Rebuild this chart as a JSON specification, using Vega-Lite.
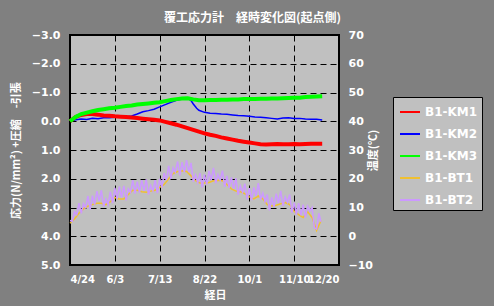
{
  "$schema": "https://vega.github.io/schema/vega-lite/v6.json",
  "width": 269,
  "height": 230,
  "autosize": {"type": "none"},
  "padding": {"left": 70, "top": 35, "right": 155, "bottom": 41},
  "background": "#808080",
  "title": {
    "text": "覆工応力計　経時変化図(起点側)",
    "color": "#ffffff",
    "font": "Noto Sans CJK JP",
    "fontSize": 12,
    "fontWeight": "bold",
    "anchor": "middle",
    "frame": "group",
    "dx": 48,
    "offset": 4
  },
  "config": {
    "view": {"fill": "#c0c0c0", "stroke": "#000000", "strokeWidth": 2},
    "mark": {"invalid": "filter"},
    "axis": {
      "labelFont": "DejaVu Sans",
      "labelFontWeight": "bold",
      "labelFontSize": 11,
      "labelColor": "#ffffff",
      "titleColor": "#ffffff",
      "titleFont": "Noto Sans CJK JP",
      "titleFontWeight": "bold",
      "titleFontSize": 11,
      "gridColor": "#000000",
      "gridDash": [6, 4],
      "gridOpacity": 1,
      "gridWidth": 1,
      "ticks": false,
      "domain": false
    },
    "legend": {
      "orient": "none",
      "legendX": 323,
      "legendY": 62,
      "fillColor": "#c0c0c0",
      "strokeColor": "#000000",
      "padding": 4,
      "symbolType": "stroke",
      "symbolSize": 400,
      "symbolStrokeWidth": 2,
      "symbolOffset": 2,
      "rowPadding": 5,
      "labelFont": "DejaVu Sans",
      "labelFontWeight": "bold",
      "labelFontSize": 12,
      "labelColor": "#ffffff",
      "labelOffset": 4
    }
  },
  "datasets": {
    "stress": [
      {"d": "2010-04-24", "B1-KM1": 0, "B1-KM2": 0, "B1-KM3": 0},
      {"d": "2010-04-29", "B1-KM1": -0.15, "B1-KM2": -0.05, "B1-KM3": -0.15},
      {"d": "2010-05-04", "B1-KM1": -0.22, "B1-KM2": -0.08, "B1-KM3": -0.25},
      {"d": "2010-05-09", "B1-KM1": -0.25, "B1-KM2": -0.06, "B1-KM3": -0.3},
      {"d": "2010-05-14", "B1-KM1": -0.25, "B1-KM2": -0.1, "B1-KM3": -0.35},
      {"d": "2010-05-19", "B1-KM1": -0.23, "B1-KM2": -0.09, "B1-KM3": -0.39},
      {"d": "2010-05-24", "B1-KM1": -0.2, "B1-KM2": -0.12, "B1-KM3": -0.42},
      {"d": "2010-05-29", "B1-KM1": -0.19, "B1-KM2": -0.12, "B1-KM3": -0.45},
      {"d": "2010-06-03", "B1-KM1": -0.17, "B1-KM2": -0.14, "B1-KM3": -0.47},
      {"d": "2010-06-08", "B1-KM1": -0.16, "B1-KM2": -0.15, "B1-KM3": -0.5},
      {"d": "2010-06-13", "B1-KM1": -0.15, "B1-KM2": -0.16, "B1-KM3": -0.53},
      {"d": "2010-06-18", "B1-KM1": -0.13, "B1-KM2": -0.18, "B1-KM3": -0.55},
      {"d": "2010-06-23", "B1-KM1": -0.11, "B1-KM2": -0.25, "B1-KM3": -0.58},
      {"d": "2010-06-28", "B1-KM1": -0.09, "B1-KM2": -0.33, "B1-KM3": -0.6},
      {"d": "2010-07-03", "B1-KM1": -0.07, "B1-KM2": -0.37, "B1-KM3": -0.62},
      {"d": "2010-07-08", "B1-KM1": -0.05, "B1-KM2": -0.42, "B1-KM3": -0.64},
      {"d": "2010-07-13", "B1-KM1": -0.03, "B1-KM2": -0.5, "B1-KM3": -0.66},
      {"d": "2010-07-18", "B1-KM1": 0.02, "B1-KM2": -0.58, "B1-KM3": -0.7},
      {"d": "2010-07-23", "B1-KM1": 0.07, "B1-KM2": -0.66, "B1-KM3": -0.74},
      {"d": "2010-07-28", "B1-KM1": 0.12, "B1-KM2": -0.73, "B1-KM3": -0.77},
      {"d": "2010-08-02", "B1-KM1": 0.18, "B1-KM2": -0.77, "B1-KM3": -0.79},
      {"d": "2010-08-07", "B1-KM1": 0.24, "B1-KM2": -0.8, "B1-KM3": -0.8},
      {"d": "2010-08-10", "B1-KM2": -0.72},
      {"d": "2010-08-12", "B1-KM1": 0.3, "B1-KM2": -0.6, "B1-KM3": -0.76},
      {"d": "2010-08-15", "B1-KM2": -0.45},
      {"d": "2010-08-17", "B1-KM1": 0.36, "B1-KM2": -0.38, "B1-KM3": -0.73},
      {"d": "2010-08-22", "B1-KM1": 0.42, "B1-KM2": -0.31, "B1-KM3": -0.73},
      {"d": "2010-08-27", "B1-KM1": 0.47, "B1-KM2": -0.28, "B1-KM3": -0.74},
      {"d": "2010-09-01", "B1-KM1": 0.51, "B1-KM2": -0.27, "B1-KM3": -0.74},
      {"d": "2010-09-06", "B1-KM1": 0.56, "B1-KM2": -0.25, "B1-KM3": -0.75},
      {"d": "2010-09-11", "B1-KM1": 0.6, "B1-KM2": -0.24, "B1-KM3": -0.75},
      {"d": "2010-09-16", "B1-KM1": 0.64, "B1-KM2": -0.22, "B1-KM3": -0.76},
      {"d": "2010-09-21", "B1-KM1": 0.68, "B1-KM2": -0.2, "B1-KM3": -0.76},
      {"d": "2010-09-26", "B1-KM1": 0.71, "B1-KM2": -0.19, "B1-KM3": -0.77},
      {"d": "2010-10-01", "B1-KM1": 0.74, "B1-KM2": -0.17, "B1-KM3": -0.77},
      {"d": "2010-10-06", "B1-KM1": 0.77, "B1-KM2": -0.15, "B1-KM3": -0.77},
      {"d": "2010-10-11", "B1-KM1": 0.8, "B1-KM2": -0.14, "B1-KM3": -0.78},
      {"d": "2010-10-16", "B1-KM1": 0.81, "B1-KM2": -0.12, "B1-KM3": -0.78},
      {"d": "2010-10-21", "B1-KM1": 0.8, "B1-KM2": -0.1, "B1-KM3": -0.79},
      {"d": "2010-10-26", "B1-KM1": 0.79, "B1-KM2": -0.08, "B1-KM3": -0.79},
      {"d": "2010-10-31", "B1-KM1": 0.8, "B1-KM2": -0.11, "B1-KM3": -0.8},
      {"d": "2010-11-05", "B1-KM1": 0.8, "B1-KM2": -0.12, "B1-KM3": -0.81},
      {"d": "2010-11-10", "B1-KM1": 0.79, "B1-KM2": -0.1, "B1-KM3": -0.82},
      {"d": "2010-11-15", "B1-KM1": 0.8, "B1-KM2": -0.1, "B1-KM3": -0.82},
      {"d": "2010-11-20", "B1-KM1": 0.79, "B1-KM2": -0.08, "B1-KM3": -0.84},
      {"d": "2010-11-25", "B1-KM1": 0.78, "B1-KM2": -0.07, "B1-KM3": -0.85},
      {"d": "2010-11-30", "B1-KM1": 0.78, "B1-KM2": -0.07, "B1-KM3": -0.86},
      {"d": "2010-12-05", "B1-KM1": 0.78, "B1-KM2": -0.04, "B1-KM3": -0.87}
    ],
    "temp": [
      {"d": "2010-04-24", "B1-BT2": 5.5, "B1-BT1": 4.5},
      {"d": "2010-04-26", "B1-BT2": 5.2},
      {"d": "2010-04-28", "B1-BT2": 8.5, "B1-BT1": 6},
      {"d": "2010-04-30", "B1-BT2": 7.5},
      {"d": "2010-05-02", "B1-BT2": 11.5, "B1-BT1": 8},
      {"d": "2010-05-04", "B1-BT2": 8},
      {"d": "2010-05-06", "B1-BT2": 11.3, "B1-BT1": 9.5},
      {"d": "2010-05-08", "B1-BT2": 10},
      {"d": "2010-05-10", "B1-BT2": 14, "B1-BT1": 10.5},
      {"d": "2010-05-12", "B1-BT2": 9.3},
      {"d": "2010-05-14", "B1-BT2": 14.1, "B1-BT1": 11},
      {"d": "2010-05-16", "B1-BT2": 11},
      {"d": "2010-05-18", "B1-BT2": 15.7, "B1-BT1": 11.5},
      {"d": "2010-05-20", "B1-BT2": 12.3},
      {"d": "2010-05-22", "B1-BT2": 16, "B1-BT1": 11.5},
      {"d": "2010-05-24", "B1-BT2": 10.3},
      {"d": "2010-05-26", "B1-BT2": 13, "B1-BT1": 11},
      {"d": "2010-05-28", "B1-BT2": 11},
      {"d": "2010-05-30", "B1-BT2": 15.5, "B1-BT1": 12},
      {"d": "2010-06-01", "B1-BT2": 11.5},
      {"d": "2010-06-03", "B1-BT2": 16.8, "B1-BT1": 13.5},
      {"d": "2010-06-05", "B1-BT2": 13},
      {"d": "2010-06-07", "B1-BT2": 17.3, "B1-BT1": 13},
      {"d": "2010-06-09", "B1-BT2": 13.5},
      {"d": "2010-06-11", "B1-BT2": 17.5, "B1-BT1": 13},
      {"d": "2010-06-13", "B1-BT2": 12.5},
      {"d": "2010-06-15", "B1-BT2": 16.5, "B1-BT1": 14.5},
      {"d": "2010-06-17", "B1-BT2": 15.3},
      {"d": "2010-06-19", "B1-BT2": 19.5, "B1-BT1": 16},
      {"d": "2010-06-21", "B1-BT2": 14.8},
      {"d": "2010-06-23", "B1-BT2": 19, "B1-BT1": 16},
      {"d": "2010-06-25", "B1-BT2": 15.2},
      {"d": "2010-06-27", "B1-BT2": 19.5, "B1-BT1": 15.5},
      {"d": "2010-06-29", "B1-BT2": 15.8},
      {"d": "2010-07-01", "B1-BT2": 19.8, "B1-BT1": 15.3},
      {"d": "2010-07-03", "B1-BT2": 14.5},
      {"d": "2010-07-05", "B1-BT2": 17.7, "B1-BT1": 15.7},
      {"d": "2010-07-07", "B1-BT2": 15.8},
      {"d": "2010-07-09", "B1-BT2": 19.5, "B1-BT1": 16},
      {"d": "2010-07-11", "B1-BT2": 15},
      {"d": "2010-07-13", "B1-BT2": 20, "B1-BT1": 17},
      {"d": "2010-07-15", "B1-BT2": 17},
      {"d": "2010-07-17", "B1-BT2": 22, "B1-BT1": 18},
      {"d": "2010-07-19", "B1-BT2": 19.5},
      {"d": "2010-07-21", "B1-BT2": 24.5, "B1-BT1": 20},
      {"d": "2010-07-23", "B1-BT2": 20},
      {"d": "2010-07-25", "B1-BT2": 23.8, "B1-BT1": 21.8},
      {"d": "2010-07-27", "B1-BT2": 22.3},
      {"d": "2010-07-29", "B1-BT2": 26, "B1-BT1": 22.5},
      {"d": "2010-07-31", "B1-BT2": 21.2},
      {"d": "2010-08-02", "B1-BT2": 25.8, "B1-BT1": 22.8},
      {"d": "2010-08-04", "B1-BT2": 22.2},
      {"d": "2010-08-06", "B1-BT2": 26.5, "B1-BT1": 22.5},
      {"d": "2010-08-08", "B1-BT2": 22.3},
      {"d": "2010-08-10", "B1-BT2": 25.5, "B1-BT1": 21},
      {"d": "2010-08-12", "B1-BT2": 19},
      {"d": "2010-08-14", "B1-BT2": 21.3, "B1-BT1": 19.3},
      {"d": "2010-08-16", "B1-BT2": 18.7},
      {"d": "2010-08-18", "B1-BT2": 22, "B1-BT1": 18.5},
      {"d": "2010-08-20", "B1-BT2": 17},
      {"d": "2010-08-22", "B1-BT2": 21.5, "B1-BT1": 18.5},
      {"d": "2010-08-24", "B1-BT2": 18},
      {"d": "2010-08-26", "B1-BT2": 22.7, "B1-BT1": 18.7},
      {"d": "2010-08-28", "B1-BT2": 19.5},
      {"d": "2010-08-30", "B1-BT2": 23.8, "B1-BT1": 19.3},
      {"d": "2010-09-01", "B1-BT2": 18.5},
      {"d": "2010-09-03", "B1-BT2": 21.5, "B1-BT1": 19.5},
      {"d": "2010-09-05", "B1-BT2": 19.5},
      {"d": "2010-09-07", "B1-BT2": 22.8, "B1-BT1": 19.3},
      {"d": "2010-09-09", "B1-BT2": 17.2},
      {"d": "2010-09-11", "B1-BT2": 21, "B1-BT1": 18},
      {"d": "2010-09-13", "B1-BT2": 16.8},
      {"d": "2010-09-15", "B1-BT2": 20.5, "B1-BT1": 16.5},
      {"d": "2010-09-17", "B1-BT2": 16.5},
      {"d": "2010-09-19", "B1-BT2": 20.2, "B1-BT1": 15.7},
      {"d": "2010-09-21", "B1-BT2": 14.5},
      {"d": "2010-09-23", "B1-BT2": 17.5, "B1-BT1": 15.5},
      {"d": "2010-09-25", "B1-BT2": 15.3},
      {"d": "2010-09-27", "B1-BT2": 18.3, "B1-BT1": 14.8},
      {"d": "2010-09-29", "B1-BT2": 12.8},
      {"d": "2010-10-01", "B1-BT2": 16.7, "B1-BT1": 13.7},
      {"d": "2010-10-03", "B1-BT2": 12.6},
      {"d": "2010-10-05", "B1-BT2": 17, "B1-BT1": 13},
      {"d": "2010-10-07", "B1-BT2": 14},
      {"d": "2010-10-09", "B1-BT2": 18.5, "B1-BT1": 14},
      {"d": "2010-10-11", "B1-BT2": 12.8},
      {"d": "2010-10-13", "B1-BT2": 15, "B1-BT1": 13},
      {"d": "2010-10-15", "B1-BT2": 12},
      {"d": "2010-10-17", "B1-BT2": 14.5, "B1-BT1": 11},
      {"d": "2010-10-19", "B1-BT2": 9},
      {"d": "2010-10-21", "B1-BT2": 13.5, "B1-BT1": 10.5},
      {"d": "2010-10-23", "B1-BT2": 10.2},
      {"d": "2010-10-25", "B1-BT2": 14.8, "B1-BT1": 10.8},
      {"d": "2010-10-27", "B1-BT2": 11.5},
      {"d": "2010-10-29", "B1-BT2": 15.8, "B1-BT1": 11.3},
      {"d": "2010-10-31", "B1-BT2": 10.5},
      {"d": "2010-11-02", "B1-BT2": 13.7, "B1-BT1": 11.7},
      {"d": "2010-11-04", "B1-BT2": 11.8},
      {"d": "2010-11-06", "B1-BT2": 14.5, "B1-BT1": 11},
      {"d": "2010-11-08", "B1-BT2": 8.2},
      {"d": "2010-11-10", "B1-BT2": 11.7, "B1-BT1": 8.7},
      {"d": "2010-11-12", "B1-BT2": 7.5},
      {"d": "2010-11-14", "B1-BT2": 11.5, "B1-BT1": 7.5},
      {"d": "2010-11-16", "B1-BT2": 7.3},
      {"d": "2010-11-18", "B1-BT2": 11, "B1-BT1": 6.5},
      {"d": "2010-11-20", "B1-BT2": 6.5},
      {"d": "2010-11-22", "B1-BT2": 10.5, "B1-BT1": 8.5},
      {"d": "2010-11-24", "B1-BT2": 8.8},
      {"d": "2010-11-26", "B1-BT2": 10, "B1-BT1": 6.5},
      {"d": "2010-11-28", "B1-BT2": 3},
      {"d": "2010-11-30", "B1-BT2": 2.5, "B1-BT1": 2},
      {"d": "2010-12-02", "B1-BT2": 8},
      {"d": "2010-12-04", "B1-BT2": 5, "B1-BT1": 5.5}
    ]
  },
  "encoding": {
    "x": {
      "field": "d",
      "type": "temporal",
      "scale": {
        "type": "utc",
        "domain": [
          {"year": 2010, "month": 4, "date": 24, "utc": true},
          {"year": 2010, "month": 12, "date": 20, "utc": true}
        ]
      },
      "axis": {
        "title": "経日",
        "titleX": 145,
        "grid": true,
        "labelExpr": "utcFormat(datum.value, '%-m/%-d')",
        "labelOverlap": false,
        "labelFontSize": 10,
        "labelPadding": 9,
        "titlePadding": 5,
        "values": [
          {"year": 2010, "month": 4, "date": 24, "utc": true},
          {"year": 2010, "month": 6, "date": 3, "utc": true},
          {"year": 2010, "month": 7, "date": 13, "utc": true},
          {"year": 2010, "month": 8, "date": 22, "utc": true},
          {"year": 2010, "month": 10, "date": 1, "utc": true},
          {"year": 2010, "month": 11, "date": 10, "utc": true},
          {"year": 2010, "month": 12, "date": 20, "utc": true}
        ]
      }
    },
    "color": {
      "field": "s",
      "type": "nominal",
      "title": null,
      "scale": {
        "domain": ["B1-KM1", "B1-KM2", "B1-KM3", "B1-BT1", "B1-BT2"],
        "range": ["#ff0000", "#0000ff", "#00ff00", "#f0c030", "#cc99ff"]
      }
    }
  },
  "layer": [
    {
      "data": {"name": "temp"},
      "transform": [{"fold": ["B1-BT1", "B1-BT2"], "as": ["s", "v"]}],
      "mark": {"type": "line", "strokeWidth": 1.5},
      "encoding": {
        "y": {
          "field": "v",
          "type": "quantitative",
          "scale": {"domain": [-10, 70]},
          "axis": {
            "orient": "right",
            "title": "温度(℃)",
            "titleAngle": 270,
            "grid": false,
            "values": [-10, 0, 10, 20, 30, 40, 50, 60, 70],
            "labelPadding": 9,
            "titlePadding": 6
          }
        }
      }
    },
    {
      "data": {"name": "stress"},
      "transform": [{"fold": ["B1-KM1", "B1-KM2", "B1-KM3"], "as": ["s", "v"]}],
      "encoding": {
        "y": {
          "field": "v",
          "type": "quantitative",
          "scale": {"domain": [-3, 5], "reverse": true},
          "axis": {
            "title": "応力(N/mm²) +圧縮　-引張",
            "grid": true,
            "format": ".1f",
            "values": [-3, -2, -1, 0, 1, 2, 3, 4, 5],
            "labelPadding": 10,
            "titlePadding": 10
          }
        }
      },
      "layer": [
        {
          "transform": [{"filter": "datum.s === 'B1-KM2'"}],
          "mark": {"type": "line", "strokeWidth": 1.5}
        },
        {
          "transform": [{"filter": "datum.s !== 'B1-KM2'"}],
          "mark": {"type": "line", "strokeWidth": 4}
        }
      ]
    }
  ],
  "resolve": {"scale": {"y": "independent"}}
}
